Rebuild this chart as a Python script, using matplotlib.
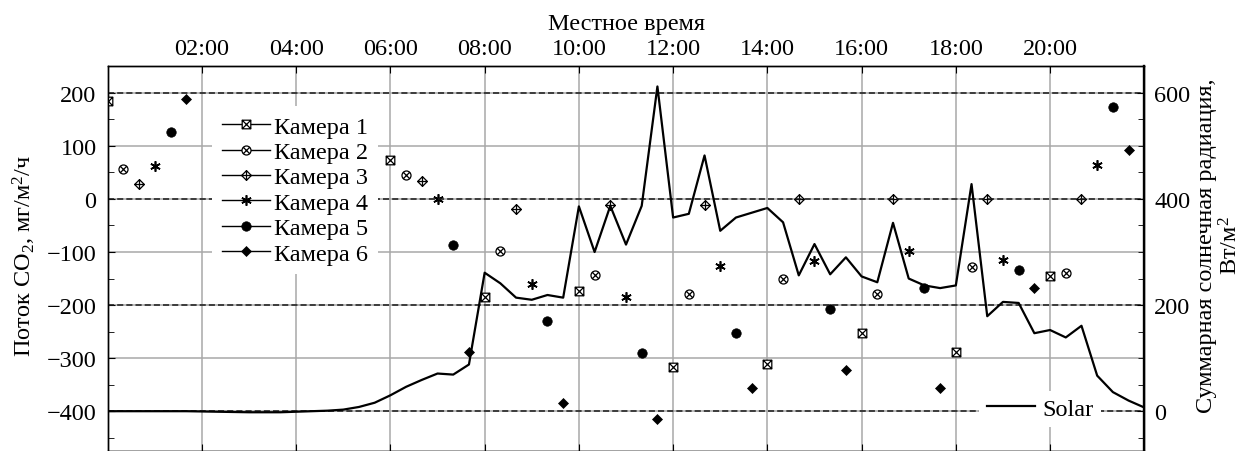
import matplotlib
matplotlib.use('Agg')
import matplotlib.pyplot as plt
from matplotlib.path import Path
from matplotlib.lines import Line2D
from matplotlib.ticker import MultipleLocator, FixedLocator

plt.rcParams['font.family'] = ['Liberation Serif', 'DejaVu Serif']
plt.rcParams['mathtext.fontset'] = 'custom'
plt.rcParams['mathtext.rm'] = 'Liberation Serif'
plt.rcParams['mathtext.it'] = 'Liberation Serif:italic'
plt.rcParams['mathtext.bf'] = 'Liberation Serif:bold'
plt.rcParams['axes.unicode_minus'] = True

# ---------------- data ----------------
cam_labels = ['Камера 1', 'Камера 2', 'Камера 3', 'Камера 4', 'Камера 5', 'Камера 6']

cam1_min = [0, 360, 480, 600, 720, 840, 960, 1080, 1200]
cam1_val = [184, 74, -184, -173, -317, -311, -253, -288, -145]
cam2_min = [20, 380, 500, 620, 740, 860, 980, 1100, 1220]
cam2_val = [57, 46, -99, -144, -179, -151, -179, -128, -139]
cam3_min = [40, 400, 520, 640, 760, 880, 1000, 1120, 1240]
cam3_val = [28, 34, -18, -12, -12, 0, 0, 0, 0]
cam4_min = [60, 420, 540, 660, 780, 900, 1020, 1140, 1260]
cam4_val = [63, 0, -160, -185, -127, -116, -99, -115, 64]
cam5_min = [80, 440, 560, 680, 800, 920, 1040, 1160, 1280]
cam5_val = [126, -87, -230, -291, -253, -207, -168, -134, 173]
cam6_min = [100, 460, 580, 700, 820, 940, 1060, 1180, 1300]
cam6_val = [189, -288, -385, -414, -357, -322, -357, -167, 93]

solar_min = [0, 20, 40, 60, 80, 100, 120, 140, 160, 180, 200, 220, 240, 260,
             280, 300, 320, 340, 360, 380, 400, 420, 440, 460, 480, 500, 520,
             540, 560, 580, 600, 620, 640, 660, 680, 700, 720, 740, 760, 780,
             800, 820, 840, 860, 880, 900, 920, 940, 960, 980, 1000, 1020,
             1040, 1060, 1080, 1100, 1120, 1140, 1160, 1180, 1200, 1220, 1240,
             1260, 1280, 1300, 1320]
solar_val = [0, 0, 0, 0, 0, 0, -0.5, -1, -1.5, -2, -2, -2, -1, 0,
             1, 3, 8, 16, 30, 46, 59, 71, 69, 88, 261, 241, 214,
             210, 219, 214, 386, 300, 387, 314, 387, 612, 365, 372, 482, 340,
             365, 374, 383, 356, 256, 315, 258, 290, 254, 243, 355, 250,
             237, 232, 237, 428, 179, 206, 204, 147, 153, 139, 161,
             67, 36, 20, 7]

hour_ticks = [2, 4, 6, 8, 10, 12, 14, 16, 18, 20]
hour_labels = ['02:00', '04:00', '06:00', '08:00', '10:00', '12:00',
               '14:00', '16:00', '18:00', '20:00']

# ---------------- marker shapes ----------------
M, L, C = Path.MOVETO, Path.LINETO, Path.CLOSEPOLY
sq_x = Path([(-1, -1), (1, -1), (1, 1), (-1, 1), (-1, -1),
             (-1, -1), (1, 1), (-1, 1), (1, -1)],
            [M, L, L, L, C, M, L, M, L])
_d = 0.7071
circ_x = Path.make_compound_path(
    Path.unit_circle(),
    Path([(-_d, -_d), (_d, _d), (-_d, _d), (_d, -_d)], [M, L, M, L]))
dia_plus = Path([(0, -1), (1, 0), (0, 1), (-1, 0), (0, -1),
                 (0, -1), (0, 1), (-1, 0), (1, 0)],
                [M, L, L, L, C, M, L, M, L])

styles = [
    dict(marker=sq_x, ms=6.2, mfc='white', mec='k', mew=0.9),
    dict(marker=circ_x, ms=6.5, mfc='white', mec='k', mew=0.9),
    dict(marker=dia_plus, ms=7.0, mfc='white', mec='k', mew=0.9),
    dict(marker=(6, 2, 0), ms=7.5, mfc='k', mec='k', mew=1.2),
    dict(marker='o', ms=6.8, mfc='k', mec='k', mew=0.5),
    dict(marker='D', ms=5.3, mfc='k', mec='k', mew=0.5),
]
cam_min = [cam1_min, cam2_min, cam3_min, cam4_min, cam5_min, cam6_min]
cam_val = [cam1_val, cam2_val, cam3_val, cam4_val, cam5_val, cam6_val]

FS = 17.5

fig = plt.figure(figsize=(12.42, 4.52), dpi=100)
fig.patch.set_facecolor('white')
ax = fig.add_axes([0.08672, 0.0, 0.83462, 0.85111])
ax2 = ax.twinx()

ax.set_xlim(0, 22)
ax.set_ylim(-475, 250)
ax2.set_ylim(-75, 650)

# grids
ax.grid(True, axis='x', color='#a8a8a8', lw=1.1)
ax.grid(True, axis='y', which='major', color='#a8a8a8', lw=1.1)
ax2.grid(True, axis='y', which='major', color='#1a1a1a', lw=1.1,
         linestyle=(0, (4, 2)))

# chamber markers
for mins, vals, st in zip(cam_min, cam_val, styles):
    ax.plot([m / 60 for m in mins], vals, ls='none', zorder=3, **st)

# solar line
ax2.plot([m / 60 for m in solar_min], solar_val, color='k', lw=1.6, zorder=3)

# ticks
ax.xaxis.set_major_locator(FixedLocator(hour_ticks))
ax.set_xticklabels(hour_labels)
ax.tick_params(axis='x', which='both', direction='in', top=True, bottom=True,
               labeltop=True, labelbottom=False, length=5, pad=5, labelsize=FS)
ax.xaxis.set_label_position('top')
ax.set_xlabel('Местное время', fontsize=FS, labelpad=7)

ax.yaxis.set_major_locator(MultipleLocator(100))
ax.yaxis.set_minor_locator(MultipleLocator(50))
ax.tick_params(axis='y', which='major', direction='in', length=5, pad=8,
               labelsize=FS, right=False)
ax.tick_params(axis='y', which='minor', direction='in', length=4, right=False)

ax2.yaxis.set_major_locator(MultipleLocator(200))
ax2.yaxis.set_minor_locator(MultipleLocator(50))
ax2.tick_params(axis='y', which='major', direction='in', length=5, pad=7,
                labelsize=FS)
ax2.tick_params(axis='y', which='minor', direction='in', length=4)

for a in (ax, ax2):
    for s in a.spines.values():
        s.set_linewidth(1.0)
        s.set_color('k')
ax2.spines['right'].set_linewidth(1.7)

# axis titles (placed in figure coordinates)
fig.text(24 / 1242, 1 - 256 / 452, 'Поток CO$_2$, мг/м$^2$/ч', fontsize=FS,
         rotation=90, ha='center', va='center')
fig.text(1219 / 1242, 1 - 246 / 452, 'Суммарная солнечная радиация,\nВт/м$^2$',
         fontsize=FS, rotation=90, ha='center', va='center',
         multialignment='center', linespacing=1.1)

# legends
handles = [Line2D([], [], color='k', lw=1.0, **st) for st in styles]
leg1 = ax2.legend(handles, cam_labels, loc='upper left',
                  bbox_to_anchor=(0.1006, 0.897), borderaxespad=0,
                  frameon=True, fancybox=False, framealpha=1,
                  edgecolor='none', facecolor='white', fontsize=FS,
                  handlelength=2.0, handletextpad=0.15, labelspacing=0.14,
                  borderpad=0.4)
ax2.add_artist(leg1)
leg2 = ax2.legend([Line2D([], [], color='k', lw=1.6)], ['Solar'], loc='center',
                  bbox_to_anchor=(0.8994, 0.1092), borderaxespad=0,
                  frameon=True, fancybox=False, framealpha=1,
                  edgecolor='none', facecolor='white', fontsize=FS,
                  handlelength=2.0, handletextpad=0.3, borderpad=0.3)

fig.savefig('out.png', dpi=100, facecolor='white')
